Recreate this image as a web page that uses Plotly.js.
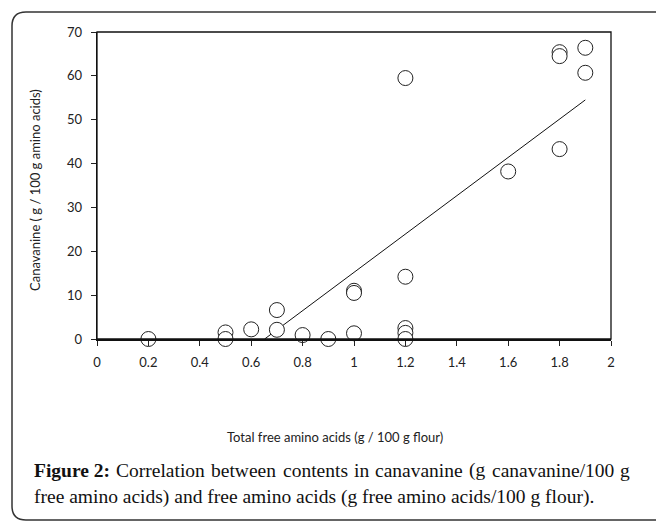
<!DOCTYPE html>
<html>
<head>
<meta charset="utf-8">
<script src="https://cdn.plot.ly/plotly-3.0.1.min.js"></script>
<style>html,body{margin:0;padding:0;background:#fff;}#chart{width:656px;height:524px;}</style>
</head>
<body>
<div id="chart"></div>
<script>
// Data
const freeAminoAcids = [0.2, 0.5, 0.5, 0.6, 0.7, 0.7, 0.8, 0.9, 1.0, 1.0, 1.0, 1.2, 1.2, 1.2, 1.2, 1.2, 1.6, 1.8, 1.8, 1.8, 1.9, 1.9];
const canavanine     = [0.0, 1.5, 0.0, 2.2, 6.6, 2.1, 0.9, 0.0, 11.0, 10.5, 1.3, 59.5, 14.2, 2.5, 1.4, 0.0, 38.2, 43.3, 65.4, 64.5, 66.4, 60.7];
const xTickVals = [0, 0.2, 0.4, 0.6, 0.8, 1, 1.2, 1.4, 1.6, 1.8, 2];
const xTickText = ['0', '0.2', '0.4', '0.6', '0.8', '1', '1.2', '1.4', '1.6', '1.8', '2'];
const yTickVals = [0, 10, 20, 30, 40, 50, 60, 70];
const xTitle = 'Total free amino acids (g / 100 g flour)';
const yTitle = 'Canavanine ( g / 100 g amino acids)';
const captionLabel = 'Figure 2:';
const captionLine1 = 'Correlation between contents in canavanine (g canavanine/100 g';
const captionLine2 = 'free amino acids) and free amino acids (g free amino acids/100 g flour).';

// Least-squares trend line, clipped at y = 0
const n = freeAminoAcids.length;
const mx = freeAminoAcids.reduce((a, b) => a + b, 0) / n;
const my = canavanine.reduce((a, b) => a + b, 0) / n;
let sxy = 0, sxx = 0;
for (let i = 0; i < n; i++) { sxy += (freeAminoAcids[i] - mx) * (canavanine[i] - my); sxx += (freeAminoAcids[i] - mx) ** 2; }
const slope = sxy / sxx, intercept = my - slope * mx;
const xStart = -intercept / slope;
const xEnd = Math.max(...freeAminoAcids);
const trendX = [xStart, xEnd];
const trendY = trendX.map(x => intercept + slope * x);

const W = 656, H = 524;
const M = {l: 97, r: 45, t: 32, b: 185};
const pw = W - M.l - M.r, ph = H - M.t - M.b;
const px = x => (x - M.l) / pw;
const py = y => (H - M.b - y) / ph;

const tickFont = {family: 'Lato, "Open Sans", sans-serif', size: 13, color: '#222'};
const titleFont = {family: 'Lato, "Open Sans", sans-serif', size: 13, color: '#222'};
const capFamily = '"Liberation Serif"';
const capSize = 19.5;
const capFont = {family: capFamily + ', serif', size: capSize, color: '#111'};

// justify first caption line between 32 px and 628 px
const ctx = document.createElement('canvas').getContext('2d');
const measure = (t, bold) => { ctx.font = (bold ? 'bold ' : '') + capSize + 'px ' + capFamily; return ctx.measureText(t).width; };
const words = [{t: captionLabel, b: true}].concat(captionLine1.split(' ').map(t => ({t, b: false})));
const widths = words.map(w => measure(w.t, w.b));
const totalW = widths.reduce((a, b) => a + b, 0);
const capL = 32, capR = 628;
const gap = (capR - capL - totalW) / (words.length - 1);
const capAnn = [];
let cx = capL;
words.forEach((w, i) => {
  capAnn.push({xref: 'paper', yref: 'paper', x: px(cx), y: py(470), text: w.b ? '<b>' + w.t + '</b>' : w.t,
               showarrow: false, font: capFont, xanchor: 'left', yanchor: 'middle'});
  cx += widths[i] + gap;
});
capAnn.push({xref: 'paper', yref: 'paper', x: px(capL), y: py(497), text: captionLine2, showarrow: false, font: capFont, xanchor: 'left', yanchor: 'middle'});

const data = [
  {x: trendX, y: trendY, mode: 'lines', line: {color: '#111', width: 1}, hoverinfo: 'skip', showlegend: false, cliponaxis: false},
  {x: freeAminoAcids, y: canavanine, mode: 'markers', type: 'scatter',
   marker: {symbol: 'circle', size: 15, color: '#fff', line: {color: '#222', width: 1}},
   showlegend: false, cliponaxis: false}
];

const layout = {
  width: W, height: H,
  margin: M,
  paper_bgcolor: '#fff', plot_bgcolor: '#fff',
  showlegend: false,
  xaxis: {range: [0, 2], tickvals: xTickVals, ticktext: xTickText, ticks: 'outside', ticklen: 5, tickcolor: '#222',
          showline: true, linecolor: '#111', linewidth: 2, showgrid: false, zeroline: false, tickfont: tickFont,
          ticklabelstandoff: 5, title: {text: ''}},
  yaxis: {range: [0, 70], tickvals: yTickVals, ticks: 'outside', ticklen: 5, tickcolor: '#222',
          showline: true, linecolor: '#111', linewidth: 1.3, showgrid: false, zeroline: false, tickfont: tickFont,
          ticklabelstandoff: 6, title: {text: ''}},
  shapes: [
    {type: 'rect', xref: 'paper', yref: 'paper', x0: 0, x1: 1, y0: 0, y1: 1, line: {color: '#111', width: 1.3}},
    {type: 'path', xref: 'paper', yref: 'paper',
     path: (() => {
       const L = px(12), R = px(656), T = py(12), B = py(520);
       const rx = 14 / pw, ry = 14 / ph;
       return `M ${R} ${T} L ${L + rx} ${T} Q ${L} ${T} ${L} ${T - ry} L ${L} ${B + ry} Q ${L} ${B} ${L + rx} ${B} L ${R} ${B}`;
     })(),
     line: {color: '#333', width: 1.5}}
  ],
  annotations: [
    {xref: 'paper', yref: 'paper', x: px(335), y: py(437), text: xTitle, showarrow: false, font: titleFont, xanchor: 'center', yanchor: 'middle'},
    {xref: 'paper', yref: 'paper', x: px(35), y: py(190), text: yTitle, textangle: -90, showarrow: false, font: titleFont, xanchor: 'center', yanchor: 'middle'}
  ].concat(capAnn)
};

Plotly.newPlot('chart', data, layout, {displayModeBar: false, staticPlot: true});
</script>
</body>
</html>
